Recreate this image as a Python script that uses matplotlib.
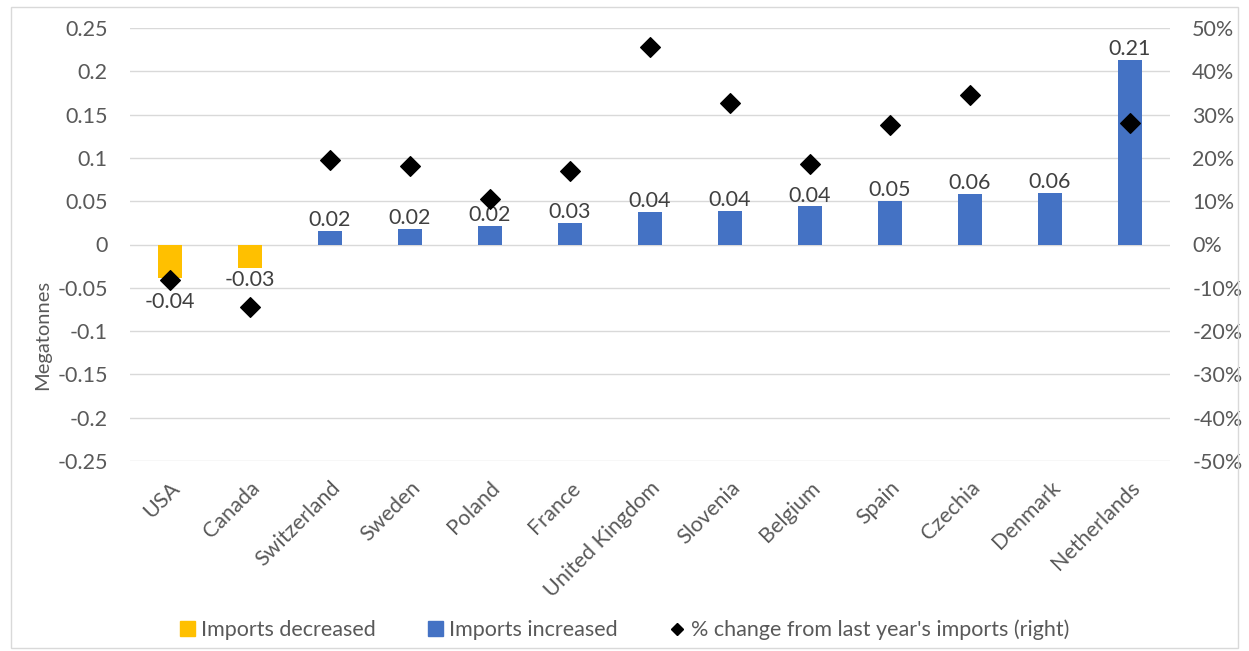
import numpy as np
import matplotlib.pyplot as plt
from matplotlib.lines import Line2D
from matplotlib.patches import Patch, Rectangle
from matplotlib.ticker import FuncFormatter

plt.rcParams['font.family'] = ['Lato', 'DejaVu Sans']

# change in imports (Mt) and percentage change from last year
countries = ["USA", "Canada", "Switzerland", "Sweden", "Poland", "France",
             "United Kingdom", "Slovenia", "Belgium", "Spain", "Czechia",
             "Denmark", "Netherlands"]
change_mt = [-0.039, -0.027, 0.016, 0.018, 0.021, 0.025, 0.038, 0.0385,
             0.044, 0.050, 0.058, 0.060, 0.213]
pct_change = [-8.2, -14.5, 19.4, 18.2, 10.6, 16.9, 45.7, 32.6, 18.6, 27.6,
              34.6, np.nan, 28.0]

yticks_left = [0.25, 0.2, 0.15, 0.1, 0.05, 0, -0.05, -0.1, -0.15, -0.2, -0.25]
yticks_right = [50, 40, 30, 20, 10, 0, -10, -20, -30, -40, -50]

orange = "#FFC000"
blue = "#4472C4"
text_col = "#595959"
grid_col = "#D9D9D9"
fs = 15.5

fig = plt.figure(figsize=(12.49, 6.51), dpi=100)
fig.patches.append(Rectangle((0.009, 0.005), 0.982, 0.985, transform=fig.transFigure,
                             fill=False, edgecolor="#D9D9D9", linewidth=1))
ax = fig.add_axes([130 / 1249, 1 - 461 / 651, 1040 / 1249, 433 / 651])

x = np.arange(len(countries))
vals = np.array(change_mt)
colors = [orange if v < 0 else blue for v in vals]
ax.bar(x, vals, width=0.31, color=colors, zorder=2)

# value labels; a negative label is pushed below the diamond if they would overlap
for xi, v, p in zip(x, vals, pct_change):
    if v < 0:
        y = v - 0.003
        marker_y = p / 200
        if abs(marker_y - (y - 0.01)) < 0.012:
            y = marker_y - 0.014
        ax.text(xi, y, f"{v:.2f}", ha="center", va="top",
                fontsize=fs, color="#404040")
    else:
        ax.text(xi, v + 0.001, f"{v:.2f}", ha="center", va="bottom",
                fontsize=fs, color="#404040")

ax.set_xlim(-0.5, len(countries) - 0.5)
ax.set_ylim(-0.25, 0.25)
ax.set_yticks(yticks_left)
ax.yaxis.set_major_formatter(FuncFormatter(lambda v, p: f"{v:g}"))
ax.set_xticks(x)
ax.set_xticklabels(countries, rotation=45, ha="right", rotation_mode="anchor",
                   fontsize=fs, color=text_col)
ax.tick_params(axis="y", labelsize=fs, labelcolor=text_col, length=0, pad=16)
ax.tick_params(axis="x", length=0, pad=12)
ax.grid(axis="y", color=grid_col, linewidth=1, zorder=0)
ax.set_axisbelow(True)
for s in ax.spines.values():
    s.set_visible(False)
ax.set_ylabel("Megatonnes", fontsize=14.5, color=text_col)
ax.yaxis.set_label_coords(-0.076, 0.29)

ax2 = ax.twinx()
ax2.scatter(x, pct_change, marker="D", s=100, color="black", zorder=3)
ax2.set_ylim(-50, 50)
ax2.set_yticks(yticks_right)
ax2.yaxis.set_major_formatter(FuncFormatter(lambda v, p: f"{v:.0f}%"))
ax2.tick_params(axis="y", labelsize=fs, labelcolor=text_col, length=0, pad=16)
for s in ax2.spines.values():
    s.set_visible(False)

handles = [Patch(color=orange, label="Imports decreased"),
           Patch(color=blue, label="Imports increased"),
           Line2D([], [], marker="D", color="black", linestyle="none",
                  markersize=6, label="% change from last year's imports (right)")]
leg = fig.legend(handles=handles, loc="center", bbox_to_anchor=(0.5, 1 - 630 / 651),
                 ncol=3, frameon=False, fontsize=fs, handlelength=0.7,
                 handleheight=0.7, handletextpad=0.3, columnspacing=2.4)
for t in leg.get_texts():
    t.set_color(text_col)

fig.savefig("out.png", dpi=100)
